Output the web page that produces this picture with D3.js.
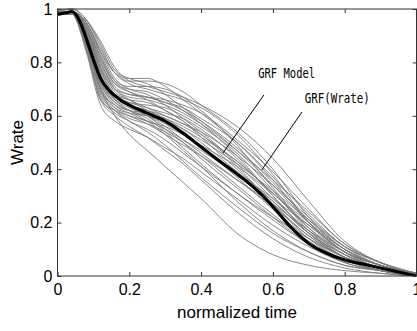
<!DOCTYPE html>
<html>
<head>
<meta charset="utf-8">
<script src="https://cdn.jsdelivr.net/npm/d3@7"></script>
<style>
  body { margin: 0; background: #fff; }
  svg { display: block; }
</style>
</head>
<body>
<div id="chart"></div>
<script>
// sample times shared by every curve
const times = [0, 0.04, 0.08, 0.12, 0.16, 0.2, 0.25, 0.3, 0.35, 0.4, 0.5, 0.6, 0.7, 0.8, 0.9, 1.0];

// individual GRF(Wrate) curves
const trials = [
  [0.98,0.99,0.86,0.66,0.62,0.60,0.58,0.55,0.51,0.47,0.38,0.28,0.16,0.08,0.03,0.01],
  [0.98,0.99,0.88,0.70,0.64,0.62,0.61,0.59,0.56,0.52,0.43,0.31,0.18,0.09,0.04,0.01],
  [0.99,0.99,0.93,0.78,0.70,0.68,0.67,0.65,0.62,0.58,0.48,0.35,0.21,0.10,0.04,0.01],
  [0.98,0.99,0.95,0.84,0.76,0.73,0.73,0.72,0.69,0.64,0.54,0.40,0.22,0.10,0.04,0.01],
  [0.99,1.00,0.96,0.86,0.76,0.74,0.74,0.71,0.66,0.61,0.50,0.36,0.20,0.09,0.03,0.01],
  [0.98,0.98,0.84,0.64,0.58,0.55,0.52,0.48,0.44,0.39,0.29,0.19,0.11,0.05,0.02,0.00],
  [0.98,0.99,0.85,0.66,0.60,0.56,0.52,0.47,0.42,0.36,0.24,0.14,0.07,0.03,0.01,0.00],
  [0.98,0.99,0.87,0.70,0.60,0.53,0.47,0.41,0.35,0.29,0.16,0.08,0.04,0.02,0.01,0.00],
  [0.98,0.99,0.90,0.74,0.66,0.63,0.60,0.56,0.51,0.46,0.36,0.26,0.15,0.07,0.03,0.01],
  [0.99,0.99,0.92,0.78,0.69,0.66,0.63,0.60,0.57,0.54,0.45,0.34,0.22,0.11,0.05,0.01],
  [0.98,0.99,0.91,0.75,0.67,0.65,0.64,0.63,0.60,0.56,0.46,0.32,0.17,0.07,0.03,0.01],
  [0.98,0.99,0.94,0.82,0.72,0.70,0.69,0.66,0.62,0.57,0.45,0.30,0.16,0.07,0.03,0.00],
  [0.99,0.99,0.95,0.85,0.76,0.72,0.70,0.68,0.66,0.63,0.53,0.38,0.20,0.09,0.04,0.01],
  [0.98,0.99,0.89,0.72,0.65,0.62,0.59,0.54,0.48,0.42,0.31,0.21,0.12,0.06,0.02,0.00],
  [0.98,0.99,0.93,0.80,0.70,0.66,0.62,0.58,0.53,0.48,0.39,0.29,0.19,0.10,0.04,0.01],
  [0.99,1.00,0.96,0.88,0.78,0.73,0.71,0.69,0.67,0.64,0.56,0.44,0.28,0.13,0.05,0.01],
  [0.98,0.99,0.90,0.74,0.67,0.64,0.62,0.60,0.57,0.53,0.41,0.27,0.14,0.06,0.02,0.00],
  [0.98,0.98,0.86,0.68,0.62,0.59,0.57,0.54,0.50,0.45,0.34,0.23,0.13,0.06,0.02,0.00],
  [0.99,0.99,0.94,0.82,0.73,0.71,0.71,0.70,0.67,0.62,0.49,0.33,0.18,0.08,0.03,0.01],
  [0.98,0.99,0.92,0.77,0.68,0.64,0.60,0.55,0.50,0.44,0.33,0.22,0.12,0.05,0.02,0.00],
  [0.98,0.99,0.88,0.71,0.63,0.60,0.57,0.53,0.49,0.45,0.36,0.27,0.17,0.09,0.04,0.01],
  [0.99,0.99,0.95,0.83,0.73,0.69,0.66,0.62,0.58,0.53,0.43,0.31,0.19,0.09,0.04,0.01],
  [0.98,0.99,0.91,0.76,0.68,0.66,0.65,0.62,0.58,0.52,0.40,0.28,0.16,0.08,0.03,0.01],
  [0.98,0.99,0.87,0.69,0.62,0.58,0.55,0.51,0.46,0.41,0.31,0.22,0.14,0.07,0.03,0.01],
  [0.99,1.00,0.96,0.87,0.77,0.74,0.72,0.68,0.63,0.58,0.47,0.34,0.20,0.09,0.03,0.01],
  [0.98,0.99,0.93,0.79,0.70,0.67,0.66,0.64,0.61,0.57,0.47,0.36,0.24,0.12,0.05,0.01],
  [0.98,0.98,0.85,0.67,0.61,0.58,0.54,0.49,0.43,0.37,0.26,0.16,0.09,0.04,0.02,0.00],
  [0.98,0.99,0.90,0.73,0.65,0.62,0.60,0.58,0.55,0.50,0.39,0.27,0.15,0.07,0.03,0.01],
  [0.99,0.99,0.94,0.81,0.72,0.69,0.67,0.65,0.63,0.59,0.50,0.37,0.23,0.11,0.04,0.01],
  [0.98,0.99,0.89,0.72,0.64,0.61,0.58,0.56,0.53,0.49,0.41,0.31,0.20,0.10,0.04,0.01],
  [0.98,0.99,0.92,0.77,0.68,0.65,0.63,0.61,0.59,0.55,0.44,0.30,0.16,0.07,0.03,0.00],
  [0.99,0.99,0.95,0.84,0.74,0.70,0.68,0.64,0.59,0.54,0.42,0.29,0.17,0.08,0.03,0.01],
  [0.98,0.99,0.88,0.70,0.63,0.61,0.60,0.57,0.53,0.48,0.37,0.25,0.14,0.07,0.03,0.01],
  [0.98,0.99,0.91,0.75,0.66,0.62,0.58,0.53,0.47,0.41,0.28,0.17,0.09,0.04,0.02,0.00],
  [0.99,0.99,0.93,0.80,0.71,0.68,0.67,0.66,0.64,0.61,0.51,0.39,0.25,0.12,0.05,0.01],
  [0.98,0.99,0.90,0.73,0.66,0.64,0.62,0.59,0.55,0.51,0.42,0.32,0.21,0.11,0.05,0.01]
];

// GRF model (thick black line)
const modelTimes = [0, 0.02, 0.04, 0.06, 0.08, 0.10, 0.12, 0.14, 0.16, 0.18, 0.20, 0.25, 0.30, 0.35, 0.40, 0.45, 0.50, 0.55, 0.60, 0.65, 0.70, 0.75, 0.80, 0.85, 0.90, 0.95, 1.00];
const modelValues = [0.98, 0.985, 0.99, 0.96, 0.89, 0.81, 0.74, 0.70, 0.675, 0.655, 0.64, 0.61, 0.58, 0.535, 0.483, 0.432, 0.382, 0.328, 0.26, 0.183, 0.122, 0.085, 0.06, 0.045, 0.03, 0.015, 0.0];

const tickValues = [0, 0.2, 0.4, 0.6, 0.8, 1];
const tickLabels = ["0", "0.2", "0.4", "0.6", "0.8", "1"];

// annotations: label, text anchor point, leader line from/to (data units)
const notes = [
  { text: "GRF Model",  at: [0.559, 0.742], from: [0.575, 0.678], to: [0.461, 0.461], len: 57 },
  { text: "GRF(Wrate)", at: [0.689, 0.647], from: [0.681, 0.614], to: [0.569, 0.397], len: 65 }
];

const w = 417, h = 331;
const mLeft = 57.5, mRight = 416.5, mTop = 9, mBottom = 276;

const x = d3.scaleLinear().domain([0, 1]).range([mLeft, mRight]);
const y = d3.scaleLinear().domain([0, 1]).range([mBottom, mTop]);

const svg = d3.select("#chart").append("svg")
  .attr("width", w)
  .attr("height", h);

svg.append("defs").append("clipPath").attr("id", "clip")
  .append("rect")
  .attr("x", mLeft).attr("y", mTop - 2)
  .attr("width", mRight - mLeft).attr("height", mBottom - mTop + 2);

const line = d3.line()
  .x(d => x(d[0]))
  .y(d => y(d[1]))
  .curve(d3.curveMonotoneX);

const plot = svg.append("g").attr("clip-path", "url(#clip)");

plot.selectAll(".trial")
  .data(trials)
  .enter()
  .append("path")
  .attr("class", "trial")
  .attr("d", v => line(v.map((d, i) => [times[i], d])))
  .attr("fill", "none")
  .attr("stroke", "#7c7c7c")
  .attr("stroke-width", 0.9);

plot.append("path")
  .attr("d", line(modelValues.map((d, i) => [modelTimes[i], d])))
  .attr("fill", "none")
  .attr("stroke", "#000")
  .attr("stroke-width", 3.2);

// axes, MATLAB style: inward ticks on all four sides
const fmt = (d, i) => tickLabels[i];

const styleAxis = g => {
  g.select(".domain").remove();
  g.selectAll(".tick line").attr("stroke", "#333");
  g.selectAll("text")
    .attr("fill", "#000")
    .style("font-family", "'Liberation Sans', Arial, sans-serif")
    .style("font-size", "16px");
};

svg.append("g")
  .attr("transform", `translate(0,${mBottom})`)
  .call(d3.axisBottom(x).tickValues(tickValues).tickFormat(fmt).tickSize(-4).tickPadding(8))
  .call(styleAxis);

svg.append("g")
  .attr("transform", `translate(${mLeft},0)`)
  .call(d3.axisLeft(y).tickValues(tickValues).tickFormat(fmt).tickSize(-4).tickPadding(5))
  .call(styleAxis);

svg.append("g")
  .attr("transform", `translate(0,${mTop})`)
  .call(d3.axisTop(x).tickValues(tickValues).tickFormat("").tickSize(-4))
  .call(styleAxis);

svg.append("g")
  .attr("transform", `translate(${mRight},0)`)
  .call(d3.axisRight(y).tickValues(tickValues).tickFormat("").tickSize(-4))
  .call(styleAxis);

svg.append("rect")
  .attr("x", mLeft).attr("y", mTop)
  .attr("width", mRight - mLeft).attr("height", mBottom - mTop)
  .attr("fill", "none")
  .attr("stroke", "#333")
  .attr("stroke-width", 1);

// axis labels
svg.append("text")
  .attr("x", (mLeft + mRight) / 2)
  .attr("y", 318)
  .attr("text-anchor", "middle")
  .style("font-family", "'Liberation Sans', Arial, sans-serif")
  .style("font-size", "17px")
  .text("normalized time");

svg.append("text")
  .attr("transform", `translate(23,${(mTop + mBottom) / 2}) rotate(-90)`)
  .attr("text-anchor", "middle")
  .style("font-family", "'Liberation Sans', Arial, sans-serif")
  .style("font-size", "17px")
  .text("Wrate");

// annotations
notes.forEach(n => {
  svg.append("line")
    .attr("x1", x(n.from[0])).attr("y1", y(n.from[1]))
    .attr("x2", x(n.to[0])).attr("y2", y(n.to[1]))
    .attr("stroke", "#000")
    .attr("stroke-width", 1);
  svg.append("text")
    .attr("x", x(n.at[0]))
    .attr("y", y(n.at[1]))
    .attr("textLength", n.len)
    .attr("lengthAdjust", "spacingAndGlyphs")
    .style("font-family", "'DejaVu Sans Mono', monospace")
    .style("font-size", "14px")
    .text(n.text);
});
</script>
</body>
</html>
